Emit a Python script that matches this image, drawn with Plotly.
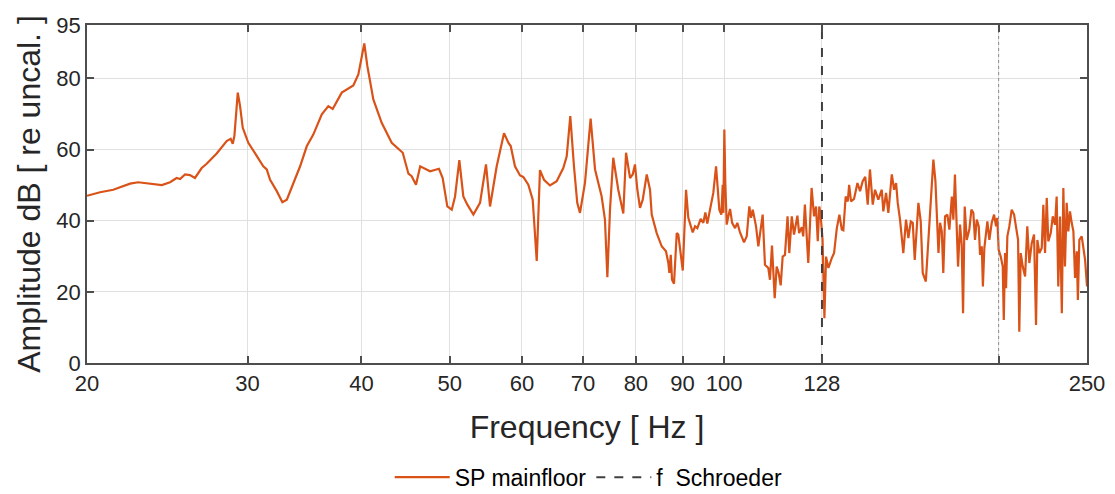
import plotly.graph_objects as go

freq_hz = [
    20.00, 20.67, 21.37, 22.30, 22.76, 23.45, 24.16, 24.67, 25.08, 25.30, 25.62, 25.94, 26.27, 26.72,
    27.06, 27.75, 28.46, 28.75, 28.90, 29.02, 29.27, 29.44, 29.64, 30.06, 30.71, 31.22, 31.49, 31.76,
    32.30, 32.76, 33.13, 33.68, 34.26, 34.84, 35.42, 36.19, 36.79, 37.20, 38.06, 39.19, 39.69, 40.29,
    40.60, 41.22, 42.10, 43.18, 44.40, 45.04, 45.41, 45.91, 46.40, 47.57, 48.65, 49.11, 49.69, 50.25,
    50.67, 51.22, 51.74, 52.27, 53.07, 53.97, 54.79, 55.35, 56.29, 57.34, 57.97, 58.32, 58.95, 59.71,
    60.20, 60.97, 61.65, 62.28, 62.79, 63.43, 64.40, 65.50, 66.60, 67.18, 67.79, 68.42, 68.99, 69.47,
    70.35, 71.36, 72.16, 73.38, 73.99, 74.44, 74.94, 75.56, 76.52, 77.50, 78.04, 78.83, 79.36, 79.82,
    80.30, 80.84, 81.40, 82.23, 82.91, 83.27, 84.32, 85.39, 86.32, 86.84, 87.06, 87.37, 87.65, 88.09,
    88.70, 89.05, 89.60, 90.06, 90.81, 91.33, 92.35, 92.90, 93.44, 94.23, 94.86, 95.35, 95.82, 96.65,
    97.28, 97.96, 98.77, 99.27, 99.62, 99.78, 100.03, 100.28, 100.63, 101.04, 101.49, 102.02, 102.78,
    103.37, 104.07, 105.13, 105.85, 106.54, 107.00, 107.48, 108.37, 109.00, 110.20, 110.84, 111.78,
    112.25, 112.82, 113.60, 114.17, 114.74, 115.33, 115.91, 116.58, 117.35, 117.86, 118.60, 119.28,
    120.30, 120.82, 121.62, 122.09, 122.60, 123.65, 124.70, 125.47, 126.10, 126.65, 127.14, 127.59,
    128.20, 128.80, 129.33, 130.10, 131.21, 131.98, 132.90, 133.77, 134.57, 135.10, 135.90, 136.62,
    137.10, 137.75, 138.80, 140.00, 140.93, 141.87, 142.80, 143.68, 144.50, 145.52, 146.36, 147.58,
    148.88, 149.46, 150.50, 151.37, 152.70, 153.58, 154.36, 155.00, 155.90, 157.20, 158.28, 159.23,
    160.19, 161.00, 161.80, 162.64, 163.30, 164.27, 165.10, 166.40, 167.48, 168.49, 169.60, 170.48,
    171.34, 171.80, 172.49, 173.24, 173.90, 174.69, 175.70, 176.60, 177.70, 178.39, 179.10, 179.91,
    180.50, 181.42, 182.19, 182.80, 183.57, 184.51, 185.72, 186.70, 187.61, 188.40, 189.25, 190.20,
    190.82, 191.65, 192.20, 192.90, 194.38, 195.36, 196.53, 197.71, 198.68, 199.30, 200.00, 201.06,
    202.08, 202.60, 203.27, 203.78, 204.44, 205.47, 206.70, 207.94, 209.00, 210.05, 210.70, 211.47,
    212.54, 213.81, 215.00, 216.12, 217.44, 218.70, 219.80, 220.54, 221.66, 223.00, 223.90, 224.86,
    225.83, 226.72, 228.12, 229.28, 230.61, 231.56, 232.51, 233.53, 234.60, 235.50, 236.47, 237.49,
    238.47, 239.48, 240.52, 241.55, 242.58, 243.64, 244.30, 245.22, 246.70, 247.72, 248.80, 250.00,
]

amplitude_db = [
    47.0, 48.0, 48.7, 50.4, 50.8, 50.4, 50.0, 50.8, 52.0, 51.7, 53.0, 52.8, 52.0, 54.8,
    56.0, 58.9, 62.4, 63.0, 61.6, 63.8, 76.0, 72.2, 66.1, 61.9, 58.1, 55.3, 54.4, 51.5,
    48.3, 45.2, 45.9, 50.6, 55.3, 60.9, 64.2, 69.9, 72.2, 71.4, 76.0, 78.0, 81.1, 89.8,
    83.5, 74.1, 67.5, 61.9, 59.1, 53.2, 52.5, 50.1, 55.3, 53.9, 54.6, 52.0, 44.0, 43.1,
    46.8, 57.0, 46.8, 44.5, 41.7, 45.0, 55.8, 44.0, 55.3, 64.6, 61.9, 61.0, 55.3, 52.7,
    52.3, 50.1, 45.9, 28.7, 54.2, 51.5, 49.9, 51.1, 54.8, 58.1, 69.4, 55.3, 45.0, 42.2,
    50.6, 68.7, 54.4, 46.8, 40.3, 24.1, 43.1, 57.7, 48.7, 42.0, 59.1, 52.0, 53.0, 55.8,
    48.7, 43.6, 45.9, 53.0, 48.7, 41.7, 36.5, 32.8, 31.4, 28.1, 25.3, 30.4, 23.4, 22.3,
    36.5, 36.1, 29.9, 26.0, 48.7, 40.8, 36.7, 38.4, 37.9, 40.5, 39.4, 42.3, 39.2, 44.0,
    47.8, 55.3, 43.1, 41.7, 50.1, 42.2, 65.6, 50.6, 38.9, 41.2, 43.3, 39.4, 37.9,
    39.4, 36.7, 33.9, 35.6, 44.0, 40.8, 43.1, 38.4, 32.8, 41.7, 27.6, 26.7,
    23.4, 33.0, 18.2, 27.1, 25.3, 21.8, 29.9, 30.4, 41.2, 30.9, 41.2, 36.1,
    41.4, 36.5, 38.2, 35.6, 44.5, 28.1, 49.2, 41.2, 44.0, 34.2, 44.0, 41.4,
    34.6, 12.6, 29.9, 26.7, 29.5, 30.9, 37.9, 41.7, 37.5, 37.3, 46.8, 45.4,
    50.1, 45.4, 46.1, 50.6, 48.3, 51.1, 52.3, 44.5, 54.4, 44.5, 48.7, 45.9,
    48.7, 42.6, 47.8, 42.2, 53.0, 48.7, 50.6, 45.0, 40.3, 30.9, 40.3, 35.1,
    39.8, 39.4, 29.0, 39.4, 45.0, 39.8, 25.3, 22.9, 34.6, 45.9, 57.2, 51.1,
    34.6, 30.9, 39.4, 37.0, 25.3, 41.2, 41.7, 37.5, 46.8, 40.3, 53.0, 39.4,
    27.1, 38.9, 33.2, 14.0, 44.0, 34.6, 37.5, 43.1, 42.2, 34.6, 40.3, 38.4,
    30.4, 32.8, 21.5, 32.3, 39.8, 34.6, 39.4, 41.7, 38.4, 40.8, 31.8, 29.9,
    27.1, 12.1, 30.9, 21.0, 35.6, 38.4, 43.1, 41.7, 37.5, 34.6, 8.8, 30.9,
    27.1, 24.3, 38.4, 28.1, 33.7, 36.1, 10.7, 34.6, 30.9, 32.3, 44.5, 30.9,
    46.4, 34.2, 36.5, 41.2, 38.9, 46.8, 21.5, 41.2, 14.0, 49.2, 27.1, 45.0,
    37.0, 42.6, 39.4, 37.0, 23.9, 31.4, 17.7, 34.6, 35.6, 31.8, 29.0, 21.5,
]

schroeder_hz = 128
marker_hz = 200
x_tick_values = [20, 30, 40, 50, 60, 70, 80, 90, 100, 128, 200, 250]
x_tick_labels = ["20", "30", "40", "50", "60", "70", "80", "90", "100", "128", "", "250"]
y_tick_values = [0, 20, 40, 60, 80, 95]
y_range = [0, 95]

FONT = "Liberation Sans, Arial, Helvetica, sans-serif"
TXT = "#262626"
AX = "#4d4d4d"

fig = go.Figure()
fig.add_trace(go.Scatter(
    x=freq_hz, y=amplitude_db, mode="lines", name="SP mainfloor",
    line=dict(color="#D95319", width=2.2),
))
fig.add_trace(go.Scatter(
    x=[schroeder_hz, schroeder_hz], y=y_range, mode="lines", name="f  Schroeder",
    line=dict(color="#404040", width=2, dash="dash"),
))
fig.add_trace(go.Scatter(
    x=[marker_hz, marker_hz], y=y_range, mode="lines", showlegend=False,
    line=dict(color="#8c8c8c", width=1, dash="dot"),
))

fig.update_layout(
    width=1115, height=494,
    margin=dict(l=87, r=28, t=25, b=131, autoexpand=False),
    paper_bgcolor="white", plot_bgcolor="white",
    font=dict(family=FONT, color=TXT, size=22),
    showlegend=True,
    legend=dict(orientation="h", x=0.528, xref="container", xanchor="center",
                y=0.034, yref="container", yanchor="middle",
                font=dict(size=23, color="#000000"), bgcolor="rgba(0,0,0,0)",
                itemwidth=55, tracegroupgap=0),
)
fig.update_xaxes(
    type="log", range=[1.30103, 2.39794], automargin=False,
    tickmode="array", tickvals=x_tick_values, ticktext=x_tick_labels,
    showgrid=True, gridcolor="#e0e0e0", gridwidth=1,
    showline=True, linecolor=AX, linewidth=1.5, mirror="allticks",
    ticks="inside", ticklen=7, tickcolor=AX, tickwidth=1.5,
    tickfont=dict(size=22, color=TXT),
    title=dict(text="Frequency [ Hz ]", font=dict(size=32, color=TXT), standoff=20),
    zeroline=False,
)
fig.update_yaxes(
    range=y_range, tickmode="array", tickvals=y_tick_values, automargin=False,
    showgrid=True, gridcolor="#e0e0e0", gridwidth=1,
    showline=True, linecolor=AX, linewidth=1.5, mirror="allticks",
    ticks="inside", ticklen=7, tickcolor=AX, tickwidth=1.5,
    tickfont=dict(size=22, color=TXT),
    title=dict(text="Amplitude dB [ re uncal. ]", font=dict(size=32, color=TXT), standoff=6),
    zeroline=False,
)

fig.write_html("out.html")
